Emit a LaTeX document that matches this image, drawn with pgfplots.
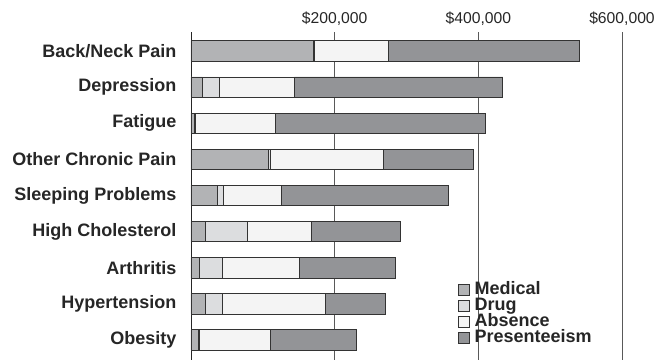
\documentclass[border=0pt]{standalone}
\usepackage{fontspec}
\setmainfont{Liberation Sans}
\usepackage{pgfplots}
\pgfplotsset{compat=1.18}
\definecolor{cmed}{HTML}{B2B3B5}
\definecolor{cdrug}{HTML}{DCDDDF}
\definecolor{cabs}{HTML}{F4F4F4}
\definecolor{cpres}{HTML}{939497}
\begin{document}
\begin{tikzpicture}
\useasboundingbox (-191bp,0) rectangle (476bp,360bp);
\begin{axis}[
 at={(0,0)}, anchor=south west,
 scale only axis, width=431bp, height=328bp,
 xbar stacked, bar width=0.57,
 xmin=0, xmax=600000,
 ymin=-0.53, ymax=8.56, y dir=reverse,
 axis x line*=top, axis y line*=left,
 x axis line style={draw=none},
 y axis line style={draw=black!85, line width=0.8bp},
 xtick={200000,400000,600000},
 xticklabels={{\$200,000},{\$400,000},{\$600,000}},
 scaled x ticks=false,
 ytick={0,...,8},
 yticklabels={Back/Neck Pain,Depression,Fatigue,Other Chronic Pain,Sleeping Problems,High Cholesterol,Arthritis,Hypertension,Obesity},
 major tick length=0,
 xmajorgrids, grid style={draw=black!65, line width=0.8bp},
 xticklabel style={font=\fontsize{15.7bp}{15.7bp}\selectfont, color=black!85, yshift=3bp},
 yticklabel style={font=\fontsize{18bp}{18bp}\selectfont\bfseries, color=black!85, xshift=-11bp},
 /pgf/number format/assume math mode=true,
 every axis plot/.append style={draw=black!80, line width=0.7bp},
 legend style={at={(0.619,0.238)}, anchor=north west, draw=none, fill=none,
   font=\fontsize{18bp}{16bp}\selectfont\bfseries, text=black!85,
   inner sep=0pt, row sep=0pt,
   nodes={text height=12bp, text depth=3bp, inner sep=0.5bp},
   /tikz/every odd column/.append style={column sep=4.5bp}},
 legend cell align=left,
 legend image code/.code={\draw[#1, draw=black!80, line width=0.7bp] (0bp,-5.5bp) rectangle (11bp,5.5bp);},
]
\addplot[fill=cmed] coordinates {(170000,0) (16000,1) (5000,2) (108000,3) (37000,4) (20000,5) (11000,6) (20400,7) (10000,8)};
\addplot[fill=cdrug] coordinates {(2300,0) (24000,1) (1200,2) (3000,3) (7600,4) (58500,5) (32700,6) (23300,7) (1000,8)};
\addplot[fill=cabs] coordinates {(102700,0) (104000,1) (111300,2) (156600,3) (81400,4) (89200,5) (107300,6) (143100,7) (99500,8)};
\addplot[fill=cpres] coordinates {(266000,0) (290000,1) (292500,2) (125100,3) (232700,4) (124100,5) (133000,6) (84000,7) (119500,8)};
\legend{Medical,Drug,Absence,Presenteeism}
\end{axis}
\end{tikzpicture}
\end{document}
